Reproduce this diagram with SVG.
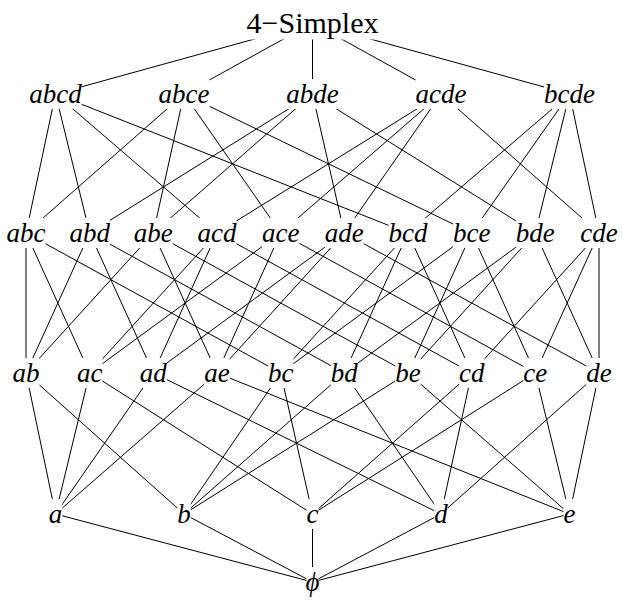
<svg xmlns="http://www.w3.org/2000/svg" width="622" height="601" viewBox="0 0 622 601">
<style>
  .edge line { stroke: #000; stroke-width: 1; fill: none; }
  .bg { fill: #fff; stroke: none; }
  .lbl { font-family: "Liberation Serif", "Times New Roman", serif; font-style: italic; font-size: 27px; fill: #000; text-anchor: middle; }
  .top { font-family: "Liberation Serif", "Times New Roman", serif; font-size: 30px; fill: #000; text-anchor: middle; }
</style>
<rect width="622" height="601" fill="#fff"/>
<g id="connectors" class="edge">
  <!-- top to row1 -->
  <line x1="312.5" y1="23" x2="55.5" y2="94"/>
  <line x1="312.5" y1="23" x2="184" y2="94"/>
  <line x1="312.5" y1="23" x2="312.5" y2="94"/>
  <line x1="312.5" y1="23" x2="441" y2="94"/>
  <line x1="312.5" y1="23" x2="569.5" y2="94"/>
  <!-- row1 to row2 -->
  <line x1="55.5" y1="94" x2="26" y2="233"/>
  <line x1="55.5" y1="94" x2="89.7" y2="233"/>
  <line x1="55.5" y1="94" x2="217" y2="233"/>
  <line x1="55.5" y1="94" x2="408" y2="233"/>
  <line x1="184" y1="94" x2="26" y2="233"/>
  <line x1="184" y1="94" x2="153.3" y2="233"/>
  <line x1="184" y1="94" x2="280.7" y2="233"/>
  <line x1="184" y1="94" x2="471.7" y2="233"/>
  <line x1="312.5" y1="94" x2="89.7" y2="233"/>
  <line x1="312.5" y1="94" x2="153.3" y2="233"/>
  <line x1="312.5" y1="94" x2="344.3" y2="233"/>
  <line x1="312.5" y1="94" x2="535.3" y2="233"/>
  <line x1="441" y1="94" x2="217" y2="233"/>
  <line x1="441" y1="94" x2="280.7" y2="233"/>
  <line x1="441" y1="94" x2="344.3" y2="233"/>
  <line x1="441" y1="94" x2="599" y2="233"/>
  <line x1="569.5" y1="94" x2="408" y2="233"/>
  <line x1="569.5" y1="94" x2="471.7" y2="233"/>
  <line x1="569.5" y1="94" x2="535.3" y2="233"/>
  <line x1="569.5" y1="94" x2="599" y2="233"/>
  <!-- row2 to row3 -->
  <line x1="26" y1="233" x2="26" y2="373"/>
  <line x1="26" y1="233" x2="89.7" y2="373"/>
  <line x1="26" y1="233" x2="280.7" y2="373"/>
  <line x1="89.7" y1="233" x2="26" y2="373"/>
  <line x1="89.7" y1="233" x2="153.3" y2="373"/>
  <line x1="89.7" y1="233" x2="344.3" y2="373"/>
  <line x1="153.3" y1="233" x2="26" y2="373"/>
  <line x1="153.3" y1="233" x2="217" y2="373"/>
  <line x1="153.3" y1="233" x2="408" y2="373"/>
  <line x1="217" y1="233" x2="89.7" y2="373"/>
  <line x1="217" y1="233" x2="153.3" y2="373"/>
  <line x1="217" y1="233" x2="471.7" y2="373"/>
  <line x1="280.7" y1="233" x2="89.7" y2="373"/>
  <line x1="280.7" y1="233" x2="217" y2="373"/>
  <line x1="280.7" y1="233" x2="535.3" y2="373"/>
  <line x1="344.3" y1="233" x2="153.3" y2="373"/>
  <line x1="344.3" y1="233" x2="217" y2="373"/>
  <line x1="344.3" y1="233" x2="599" y2="373"/>
  <line x1="408" y1="233" x2="280.7" y2="373"/>
  <line x1="408" y1="233" x2="344.3" y2="373"/>
  <line x1="408" y1="233" x2="471.7" y2="373"/>
  <line x1="471.7" y1="233" x2="280.7" y2="373"/>
  <line x1="471.7" y1="233" x2="408" y2="373"/>
  <line x1="471.7" y1="233" x2="535.3" y2="373"/>
  <line x1="535.3" y1="233" x2="344.3" y2="373"/>
  <line x1="535.3" y1="233" x2="408" y2="373"/>
  <line x1="535.3" y1="233" x2="599" y2="373"/>
  <line x1="599" y1="233" x2="471.7" y2="373"/>
  <line x1="599" y1="233" x2="535.3" y2="373"/>
  <line x1="599" y1="233" x2="599" y2="373"/>
  <!-- row3 to row4 -->
  <line x1="26" y1="373" x2="55.5" y2="514"/>
  <line x1="26" y1="373" x2="184" y2="514"/>
  <line x1="89.7" y1="373" x2="55.5" y2="514"/>
  <line x1="89.7" y1="373" x2="312.5" y2="514"/>
  <line x1="153.3" y1="373" x2="55.5" y2="514"/>
  <line x1="153.3" y1="373" x2="441" y2="514"/>
  <line x1="217" y1="373" x2="55.5" y2="514"/>
  <line x1="217" y1="373" x2="569.5" y2="514"/>
  <line x1="280.7" y1="373" x2="184" y2="514"/>
  <line x1="280.7" y1="373" x2="312.5" y2="514"/>
  <line x1="344.3" y1="373" x2="184" y2="514"/>
  <line x1="344.3" y1="373" x2="441" y2="514"/>
  <line x1="408" y1="373" x2="184" y2="514"/>
  <line x1="408" y1="373" x2="569.5" y2="514"/>
  <line x1="471.7" y1="373" x2="312.5" y2="514"/>
  <line x1="471.7" y1="373" x2="441" y2="514"/>
  <line x1="535.3" y1="373" x2="312.5" y2="514"/>
  <line x1="535.3" y1="373" x2="569.5" y2="514"/>
  <line x1="599" y1="373" x2="441" y2="514"/>
  <line x1="599" y1="373" x2="569.5" y2="514"/>
  <!-- row4 to empty set -->
  <line x1="55.5" y1="514" x2="312.5" y2="582"/>
  <line x1="184" y1="514" x2="312.5" y2="582"/>
  <line x1="312.5" y1="514" x2="312.5" y2="582"/>
  <line x1="441" y1="514" x2="312.5" y2="582"/>
  <line x1="569.5" y1="514" x2="312.5" y2="582"/>
</g>
<g id="nodes">
  <g id="n-simplex"><rect class="bg" x="246.5" y="6.5" width="132" height="33"/><text class="top" x="312.5" y="33">4−Simplex</text></g>

  <g id="n-abcd"><rect class="bg" x="29.25" y="79" width="52.5" height="30"/><text class="lbl" x="55.5" y="103.1">abcd</text></g>
  <g id="n-abce"><rect class="bg" x="158.5" y="79" width="51" height="30"/><text class="lbl" x="184" y="103.1">abce</text></g>
  <g id="n-abde"><rect class="bg" x="286.25" y="79" width="52.5" height="30"/><text class="lbl" x="312.5" y="103.1">abde</text></g>
  <g id="n-acde"><rect class="bg" x="415.5" y="79" width="51" height="30"/><text class="lbl" x="441" y="103.1">acde</text></g>
  <g id="n-bcde"><rect class="bg" x="544" y="79" width="51" height="30"/><text class="lbl" x="569.5" y="103.1">bcde</text></g>

  <g id="n-abc"><rect class="bg" x="6.5" y="218" width="39" height="30"/><text class="lbl" x="26" y="242.1">abc</text></g>
  <g id="n-abd"><rect class="bg" x="69.45" y="218" width="40.5" height="30"/><text class="lbl" x="89.7" y="242.1">abd</text></g>
  <g id="n-abe"><rect class="bg" x="133.8" y="218" width="39" height="30"/><text class="lbl" x="153.3" y="242.1">abe</text></g>
  <g id="n-acd"><rect class="bg" x="197.5" y="218" width="39" height="30"/><text class="lbl" x="217" y="242.1">acd</text></g>
  <g id="n-ace"><rect class="bg" x="261.95" y="218" width="37.5" height="30"/><text class="lbl" x="280.7" y="242.1">ace</text></g>
  <g id="n-ade"><rect class="bg" x="324.8" y="218" width="39" height="30"/><text class="lbl" x="344.3" y="242.1">ade</text></g>
  <g id="n-bcd"><rect class="bg" x="388.5" y="218" width="39" height="30"/><text class="lbl" x="408" y="242.1">bcd</text></g>
  <g id="n-bce"><rect class="bg" x="452.95" y="218" width="37.5" height="30"/><text class="lbl" x="471.7" y="242.1">bce</text></g>
  <g id="n-bde"><rect class="bg" x="515.8" y="218" width="39" height="30"/><text class="lbl" x="535.3" y="242.1">bde</text></g>
  <g id="n-cde"><rect class="bg" x="580.25" y="218" width="37.5" height="30"/><text class="lbl" x="599" y="242.1">cde</text></g>

  <g id="n-ab"><rect class="bg" x="12.5" y="358" width="27" height="30"/><text class="lbl" x="26" y="382.1">ab</text></g>
  <g id="n-ac"><rect class="bg" x="76.95" y="358" width="25.5" height="30"/><text class="lbl" x="89.7" y="382.1">ac</text></g>
  <g id="n-ad"><rect class="bg" x="139.8" y="358" width="27" height="30"/><text class="lbl" x="153.3" y="382.1">ad</text></g>
  <g id="n-ae"><rect class="bg" x="204.25" y="358" width="25.5" height="30"/><text class="lbl" x="217" y="382.1">ae</text></g>
  <g id="n-bc"><rect class="bg" x="267.95" y="358" width="25.5" height="30"/><text class="lbl" x="280.7" y="382.1">bc</text></g>
  <g id="n-bd"><rect class="bg" x="330.8" y="358" width="27" height="30"/><text class="lbl" x="344.3" y="382.1">bd</text></g>
  <g id="n-be"><rect class="bg" x="395.25" y="358" width="25.5" height="30"/><text class="lbl" x="408" y="382.1">be</text></g>
  <g id="n-cd"><rect class="bg" x="458.95" y="358" width="25.5" height="30"/><text class="lbl" x="471.7" y="382.1">cd</text></g>
  <g id="n-ce"><rect class="bg" x="523.3" y="358" width="24" height="30"/><text class="lbl" x="535.3" y="382.1">ce</text></g>
  <g id="n-de"><rect class="bg" x="586.25" y="358" width="25.5" height="30"/><text class="lbl" x="599" y="382.1">de</text></g>

  <g id="n-a"><rect class="bg" x="48.75" y="499" width="13.5" height="30"/><text class="lbl" x="55.5" y="523.1">a</text></g>
  <g id="n-b"><rect class="bg" x="177.25" y="499" width="13.5" height="30"/><text class="lbl" x="184" y="523.1">b</text></g>
  <g id="n-c"><rect class="bg" x="306.5" y="499" width="12" height="30"/><text class="lbl" x="312.5" y="523.1">c</text></g>
  <g id="n-d"><rect class="bg" x="434.25" y="499" width="13.5" height="30"/><text class="lbl" x="441" y="523.1">d</text></g>
  <g id="n-e"><rect class="bg" x="563.5" y="499" width="12" height="30"/><text class="lbl" x="569.5" y="523.1">e</text></g>

  <g id="n-empty"><rect class="bg" x="306.5" y="567" width="12" height="30"/><text class="lbl" x="312.5" y="591.1">ϕ</text></g>
</g>
</svg>
